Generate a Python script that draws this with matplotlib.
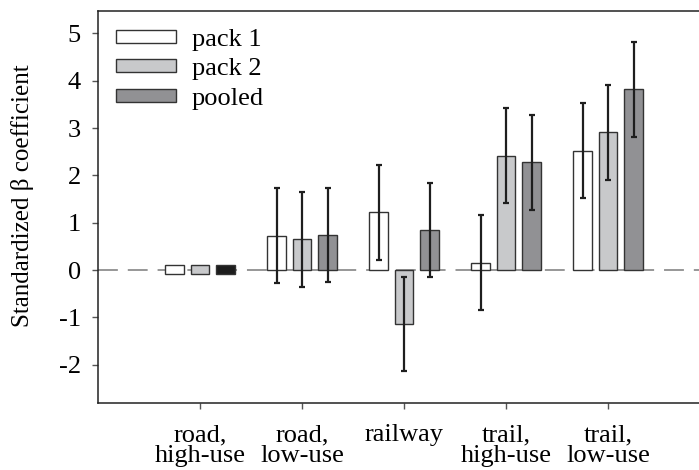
import numpy as np
import matplotlib
matplotlib.use("Agg")
import matplotlib.pyplot as plt

plt.rcParams['font.family'] = ['Liberation Serif', 'DejaVu Serif']

categories = ["road,\nhigh-use", "road,\nlow-use", "railway", "trail,\nhigh-use", "trail,\nlow-use"]
series = ["pack 1", "pack 2", "pooled"]

pack1 = [0.10, 0.73, 1.22, 0.155, 2.52]
pack2 = [0.10, 0.65, -1.14, 2.42, 2.91]
pooled = [0.10, 0.745, 0.845, 2.28, 3.82]

pack1_err = [0.0, 1.0, 1.0, 1.0, 1.0]
pack2_err = [0.0, 1.0, 1.0, 1.0, 1.0]
pooled_err = [0.0, 1.0, 1.0, 1.0, 1.0]

yticks = [-2, -1, 0, 1, 2, 3, 4, 5]

fills = ["#ffffff", "#c8c9cb", "#919194"]
# the first category is shown as small placeholder boxes around zero
first_fills = ["#ffffff", "#c8c9cb", "#1c1c1c"]

fig = plt.figure(figsize=(6.99, 4.70), dpi=100)
ax = fig.add_axes([98 / 699, 67.3 / 470, 612 / 699, 392 / 470])

x = np.arange(len(categories))
width = 0.18
offsets = [-0.25, 0.0, 0.25]
placeholder_base = -0.08
fs = 19

ax.axhline(0, color="#7a7a7a", lw=1.1, dashes=(13, 6.5), zorder=1)

for k, (vals, errs, name) in enumerate(zip([pack1, pack2, pooled],
                                           [pack1_err, pack2_err, pooled_err],
                                           series)):
    xs = x + offsets[k]
    # placeholder box for first category
    ax.bar(xs[0], vals[0] - placeholder_base, bottom=placeholder_base, width=width,
           color=first_fills[k], edgecolor="#333333", linewidth=1.0, zorder=2)
    ax.bar(xs[1:], vals[1:], width=width, color=fills[k], edgecolor="#333333",
           linewidth=1.0, zorder=2, label=name)
    ax.errorbar(xs[1:], vals[1:], yerr=errs[1:], fmt="none", ecolor="#1e1e1e",
                elinewidth=1.6, capsize=2.2, capthick=1.6, zorder=3)

ax.set_xlim(-1, 5)
ax.set_ylim(-2.8, 5.48)
ax.set_xticks(x)
ax.set_xticklabels(categories, fontsize=fs, linespacing=0.9)
ax.set_yticks(yticks)
ax.set_yticklabels([str(t) for t in yticks], fontsize=fs)
ax.tick_params(axis="both", direction="out", length=4.5, width=1.0, color="#555555")
ax.tick_params(axis="y", pad=8)
ax.tick_params(axis="x", pad=11)
for s in ax.spines.values():
    s.set_linewidth(1.1)
    s.set_color("#222222")

ax.set_ylabel("Standardized \u03b2 coefficient", fontsize=18)
ax.yaxis.set_label_coords(-0.104, 0.527)

leg = ax.legend(loc="upper left", frameon=False, fontsize=fs, handlelength=2.27,
                handleheight=0.38, handletextpad=0.6, labelspacing=0.29,
                borderpad=0.4, borderaxespad=0.28)

fig.savefig("out.png", dpi=100)
